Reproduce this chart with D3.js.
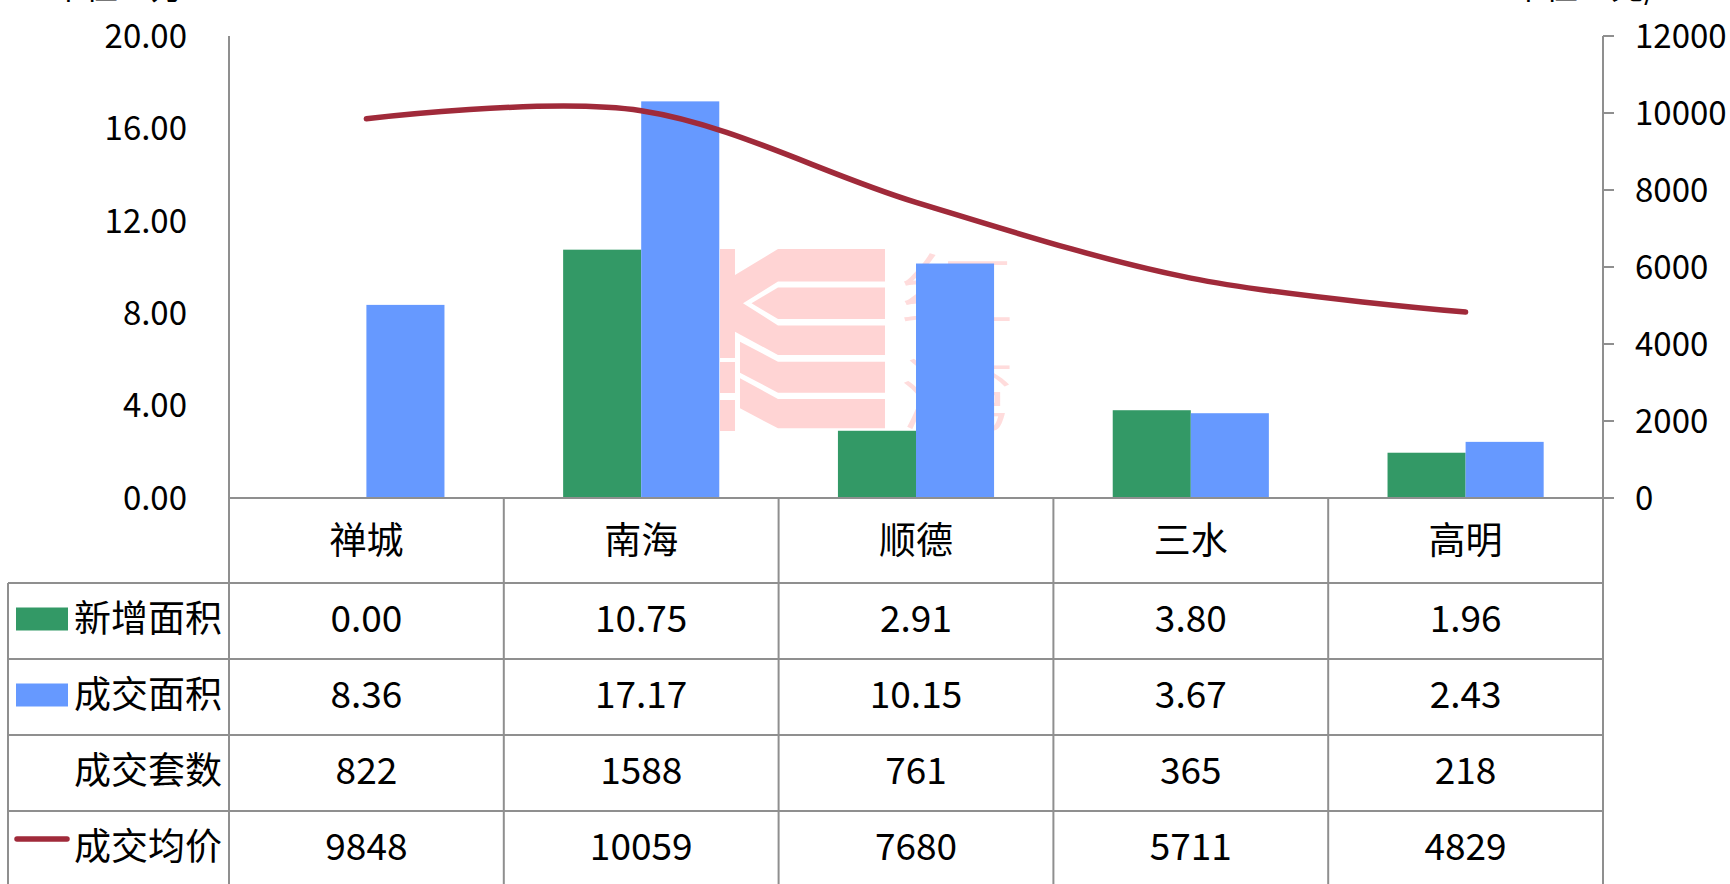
<!DOCTYPE html>
<html>
<head>
<meta charset="utf-8">
<script src="https://cdn.jsdelivr.net/npm/d3@7"></script>
<style>
  html, body { margin: 0; padding: 0; background: #fff; overflow: hidden; }
  svg { display: block; }
  text { font-family: "Noto Sans CJK SC", "Noto Sans", sans-serif; fill: #000; }
</style>
</head>
<body>
<svg id="chart" width="1730" height="884"></svg>
<script>
// ---- data ----
const categories = ['禅城', '南海', '顺德', '三水', '高明'];
const seriesNames = ['新增面积', '成交面积', '成交套数', '成交均价'];
const newArea = [0.00, 10.75, 2.91, 3.80, 1.96];
const dealArea = [8.36, 17.17, 10.15, 3.67, 2.43];
const dealCount = [822, 1588, 761, 365, 218];
const avgPrice = [9848, 10059, 7680, 5711, 4829];
const leftTicks = [0, 4, 8, 12, 16, 20];
const rightTicks = [0, 2000, 4000, 6000, 8000, 10000, 12000];
const leftUnit = '单位：万㎡';
const rightUnit = '单位：元/㎡';
const watermarkChars = ['红', '湾'];

// ---- styles ----
const GREEN = '#339966', BLUE = '#6699FF', RED = '#A02A3A', GRID = '#8f8f8f', PINK = '#FFD4D4';

const svg = d3.select('#chart');
const plot = { left: 229, right: 1603, top: 36, bottom: 498 };
const tableLeft = 8, headerBottom = 583, rowH = 76;

const x = d3.scaleBand().domain(categories).range([plot.left, plot.right]).paddingInner(0).paddingOuter(0);
const x1 = d3.scaleBand().domain(['new', 'deal']).range([0, x.bandwidth()]).paddingInner(0).paddingOuter(0.76);
const yL = d3.scaleLinear().domain([0, 20]).range([plot.bottom, plot.top]);
const yR = d3.scaleLinear().domain([0, 12000]).range([plot.bottom, plot.top]);

// ---- unit titles (cut off at top) ----
svg.append('text').attr('x', 52).attr('y', -1).attr('font-size', 33).text(leftUnit);
svg.append('text').attr('x', 1512).attr('y', -1).attr('font-size', 33).text(rightUnit);

// ---- watermark ----
const wm = svg.append('g').attr('fill', PINK);
[[249, 358], [362, 393], [400, 431]].forEach(([a, b]) =>
  wm.append('rect').attr('x', 720).attr('y', a).attr('width', 15).attr('height', b - a));
const polys = [
  [[735,275],[778,249],[885,249],[885,281.5],[778,281.5],[743,303.3],[778,325.5],[885,325.5],[885,355],[778,355],[735,331.7]],
  [[751.5,303.3],[778,287.5],[885,287.5],[885,319],[778,319]],
  [[740,341.7],[778,361.7],[885,361.7],[885,392.7],[778,392.7],[740,372.7]],
  [[740,378.3],[778,399],[885,399],[885,428.3],[778,428.3],[740,408.3]]
];
polys.forEach(p => wm.append('polygon').attr('points', p.map(d => d.join(',')).join(' ')));
[[0, 320], [1, 424]].forEach(([k, yy]) => {
  wm.append('text').attr('transform', `translate(957,${yy}) scale(1.45,1)`)
    .attr('font-size', 80).attr('text-anchor', 'middle').attr('font-weight', 300)
    .style('fill', '#FFDCDC').text(watermarkChars[k]);
});

// ---- bars ----
const barG = svg.append('g');
barG.selectAll('rect.new').data(categories).join('rect')
  .attr('x', d => x(d) + x1('new')).attr('width', x1.bandwidth())
  .attr('y', (d, i) => yL(newArea[i])).attr('height', (d, i) => yL(0) - yL(newArea[i]))
  .attr('fill', GREEN);
barG.selectAll('rect.deal').data(categories).join('rect')
  .attr('x', d => x(d) + x1('deal')).attr('width', x1.bandwidth())
  .attr('y', (d, i) => yL(dealArea[i])).attr('height', (d, i) => yL(0) - yL(dealArea[i]))
  .attr('fill', BLUE);

// ---- line ----
const line = d3.line()
  .x((d, i) => x(categories[i]) + x.bandwidth() / 2)
  .y(d => yR(d))
  .curve(d3.curveCatmullRom.alpha(0));
svg.append('path').datum(avgPrice).attr('d', line)
  .attr('fill', 'none').attr('stroke', RED).attr('stroke-width', 5.5).attr('stroke-linecap', 'round');

// ---- axes ----
const gl = svg.append('g').attr('stroke', GRID).attr('stroke-width', 2).attr('fill', 'none');
gl.append('line').attr('x1', plot.left).attr('x2', plot.left).attr('y1', plot.top).attr('y2', 900);
gl.append('line').attr('x1', plot.right).attr('x2', plot.right).attr('y1', plot.top).attr('y2', 900);
rightTicks.forEach(t => gl.append('line').attr('x1', plot.right).attr('x2', plot.right + 11)
  .attr('y1', yR(t)).attr('y2', yR(t)));
gl.append('line').attr('x1', plot.left).attr('x2', plot.right).attr('y1', plot.bottom).attr('y2', plot.bottom);
categories.slice(1).forEach(c => gl.append('line').attr('x1', x(c)).attr('x2', x(c)).attr('y1', plot.bottom).attr('y2', 900));
for (let r = 0; r < 4; r++) {
  const yy = headerBottom + r * rowH;
  gl.append('line').attr('x1', tableLeft).attr('x2', plot.right).attr('y1', yy).attr('y2', yy);
}
gl.append('line').attr('x1', tableLeft).attr('x2', tableLeft).attr('y1', headerBottom).attr('y2', 900);

// left tick labels
svg.append('g').selectAll('text').data(leftTicks).join('text')
  .attr('x', 187).attr('y', d => yL(d)).attr('dy', '0.36em')
  .attr('text-anchor', 'end').attr('font-size', 33).text(d => d3.format('.2f')(d));
// right tick labels
svg.append('g').selectAll('text').data(rightTicks).join('text')
  .attr('x', 1635).attr('y', d => yR(d)).attr('dy', '0.36em')
  .attr('text-anchor', 'start').attr('font-size', 33).text(d => d);

// ---- table ----
const cx = c => x(c) + x.bandwidth() / 2;
svg.append('g').selectAll('text').data(categories).join('text')
  .attr('x', cx).attr('y', (plot.bottom + headerBottom) / 2).attr('dy', '0.36em')
  .attr('text-anchor', 'middle').attr('font-size', 37).text(d => d);

const rows = [
  newArea.map(v => d3.format('.2f')(v)),
  dealArea.map(v => d3.format('.2f')(v)),
  dealCount.map(String),
  avgPrice.map(String)
];
rows.forEach((vals, r) => {
  const yc = headerBottom + r * rowH + rowH / 2 - 2;
  svg.append('text').attr('x', 222).attr('y', yc).attr('dy', '0.36em')
    .attr('text-anchor', 'end').attr('font-size', 37).text(seriesNames[r]);
  svg.append('g').selectAll('text').data(vals).join('text')
    .attr('x', (d, i) => cx(categories[i])).attr('y', yc).attr('dy', '0.36em')
    .attr('text-anchor', 'middle').attr('font-size', 37).text(d => d);
});

// legend keys
const rowMid = r => headerBottom + r * rowH + rowH / 2 - 2;
svg.append('rect').attr('x', 16).attr('y', rowMid(0) - 11.5).attr('width', 52).attr('height', 23).attr('fill', GREEN);
svg.append('rect').attr('x', 16).attr('y', rowMid(1) - 11.5).attr('width', 52).attr('height', 23).attr('fill', BLUE);
svg.append('line').attr('x1', 17).attr('x2', 67).attr('y1', rowMid(3) - 8).attr('y2', rowMid(3) - 8)
  .attr('stroke', RED).attr('stroke-width', 5.5).attr('stroke-linecap', 'round');
</script>
</body>
</html>
